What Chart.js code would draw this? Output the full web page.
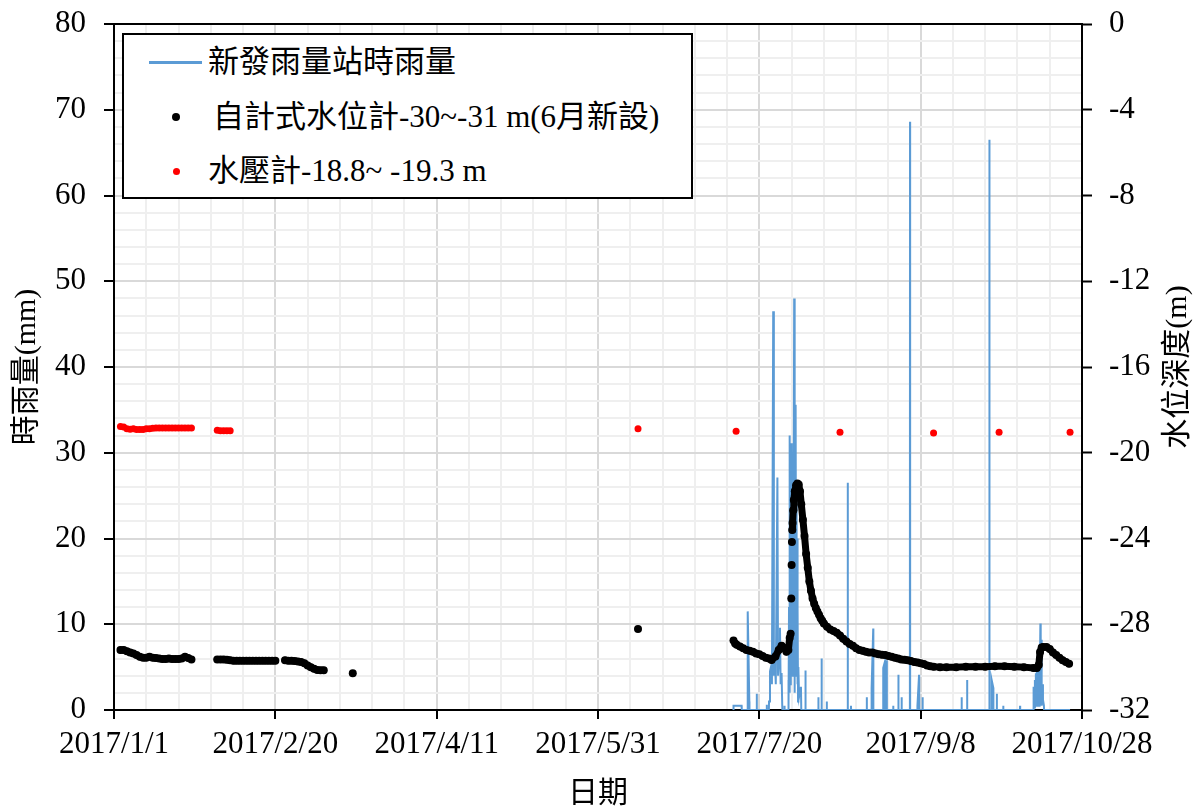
<!DOCTYPE html>
<html>
<head>
<meta charset="utf-8">
<script src="https://cdn.jsdelivr.net/npm/chart.js@4.4.1/dist/chart.umd.min.js"></script>
<style>
  body { margin: 0; background: #fff; }
  #wrap { position: relative; width: 1199px; height: 809px; }
  #legend {
    position: absolute; left: 122px; top: 33px; width: 567px; height: 162px;
    border: 2px solid #000; background: #fff; color: #000;
    font-family: 'Liberation Serif', 'Noto Sans CJK TC', serif; font-size: 31px;
  }
  .row { position: absolute; left: 0; height: 40px; line-height: 40px; white-space: nowrap; }
  .txt { position: absolute; top: 0; }
  .sw { position: absolute; }
</style>
</head>
<body>
<div id="wrap">
  <canvas id="chart" width="1199" height="809"></canvas>
  <div id="legend">
    <div class="row" style="top:7px">
      <span class="sw" style="left:25px;top:19px;width:53px;height:2.5px;background:#5b9bd5"></span>
      <span class="txt" style="left:84px">新發雨量站時雨量</span>
    </div>
    <div class="row" style="top:62px">
      <span class="sw" style="left:48px;top:16px;width:8px;height:8px;border-radius:50%;background:#000"></span>
      <span class="txt" style="left:89px">自計式水位計-30~-31 m(6月新設)</span>
    </div>
    <div class="row" style="top:116px">
      <span class="sw" style="left:48.5px;top:16.5px;width:7px;height:7px;border-radius:50%;background:#ff0000"></span>
      <span class="txt" style="left:84px">水壓計-18.8~ -19.3 m</span>
    </div>
  </div>
</div>
<script>
// x axis: days counted from 2017/1/1
var xTickDays = [0, 50, 100, 150, 200, 250, 300];
var xTickLabels = ['2017/1/1', '2017/2/20', '2017/4/11', '2017/5/31', '2017/7/20', '2017/9/8', '2017/10/28'];

// 新發雨量站時雨量 (mm), non-zero hours
var rainDay = [192.0, 192.5, 193.0, 193.5, 194.0, 194.5, 196.4, 196.9, 199.2, 202.3,
  203.0, 203.3, 203.6, 203.9, 204.3, 204.5, 204.8, 205.1, 205.6, 205.8, 206.1, 206.4, 206.6, 206.9, 207.1, 207.8,
  208.9, 209.0, 209.1, 209.2, 209.3, 209.4, 209.5, 209.6, 209.7, 209.8, 209.9, 210.0, 210.1, 210.2, 210.3, 210.4,
  210.5, 210.6, 210.7, 210.8, 210.9, 211.0, 211.1, 211.2, 211.3, 211.4, 211.5, 211.6, 211.7, 211.8, 211.9, 212.0,
  212.1, 212.3, 212.6, 212.9, 213.0,
  214.3, 218.3, 219.3, 220.9, 227.4, 228.4, 233.3, 234.8, 235.3, 238.4, 238.9, 239.5, 241.5, 243.1, 244.1,
  246.7, 249.0, 249.5, 250.6, 262.7, 264.4, 271.3, 272.0, 272.5, 273.6, 275.6, 280.8,
  284.9, 285.1, 285.2, 285.4, 285.5, 285.7, 285.8, 286.0, 286.1, 286.3, 286.4, 286.6, 286.7, 286.8, 286.9,
  287.1, 287.2, 287.3, 287.4, 287.5, 287.6, 287.7, 287.9, 288.2];
var rainMm = [0.5, 0.5, 0.5, 0.5, 0.5, 0.5, 11.5, 1.0, 1.9, 0.6,
  1.0, 4.5, 5.0, 3.0, 46.5, 4.0, 6.0, 3.0, 27.1, 4.0, 6.0, 9.6, 3.0, 4.3, 0.5, 0.5,
  0, 3.5, 0.5, 12, 2, 20, 32, 3, 28, 5, 31.1, 8, 29, 4, 27, 10,
  30, 6, 26, 48, 2, 29, 9, 28, 35.6, 4, 24.5, 7, 20, 3, 12, 1,
  5, 1.5, 1.5, 2.7, 0,
  4.6, 1.5, 6.0, 1.0, 26.5, 0.5, 1.5, 2.5, 9.5, 4.9, 5.6, 5.8, 0.5, 4.1, 1.5,
  68.6, 0.5, 4.1, 1.5, 1.5, 3.5, 66.5, 3.5, 2.6, 1.9, 0.5, 0.5,
  1.0, 2.7, 0.3, 3.5, 0.5, 4.3, 1, 5.5, 0.5, 6.5, 1, 7.1, 0.5, 6.0, 1,
  10.1, 0.5, 7.0, 1, 8.2, 0.5, 3.0, 1.2, 0.5];
var rainEnd = 296.3;

// 自計式水位計 (m), null = no record
var wlDay = [2, 3, 4, 5, 6, 7, 8, 9, 10, 11, 12, 13, 14, 15, 16, 17, 18, 19, 20, 21, 22, 23, 24, 28,
  32, 33, 34, 35, 36, 37, 38, 39, 40, 41, 42, 43, 44, 45, 46, 47, 48, 49, 50, 51.5,
  53, 54, 55, 56, 57, 58, 59, 60, 61, 62, 63, 64, 65, 70, 74, 120, 162.4, 180,
  192.0, 192.5, 193, 194, 195, 196, 197, 198, 199, 200, 201, 202, 203, 203.8, 205, 206, 206.9, 207.5, 208.4, 209.0,
  209.4, 209.7, 209.9, 210.0, 210.1, 210.2, 210.3, 210.5, 210.7, 211.0, 211.4, 211.8, 212.2, 212.6, 213.0, 213.5,
  214.0, 214.5, 215.0, 215.5, 216.0, 216.5, 217.0, 217.5, 218.0, 218.5, 219.0, 219.5, 220.0, 221, 222, 223, 224,
  225, 226, 227, 228, 229, 230, 231, 232, 233, 234, 235, 236, 237, 238, 239, 240, 241, 242, 243, 244, 245, 246,
  247, 248, 249, 250, 251, 252, 253, 254, 256, 258, 261, 264, 267, 270, 273, 276, 279, 282, 285, 286.0, 286.6,
  287.0, 287.5, 288, 289, 290, 291, 292, 293, 294, 295, 296];
var wlDepth = [-29.2, -29.2, -29.26, -29.32, -29.36, -29.44, -29.52, -29.56, -29.56, -29.52, -29.56, -29.58, -29.6,
  -29.62, -29.62, -29.6, -29.62, -29.62, -29.62, -29.6, -29.52, -29.58, -29.64, null,
  -29.64, -29.64, -29.64, -29.66, -29.68, -29.7, -29.7, -29.7, -29.7, -29.7, -29.7, -29.7, -29.7, -29.7, -29.7,
  -29.7, -29.7, -29.7, -29.7, null,
  -29.68, -29.7, -29.7, -29.72, -29.74, -29.76, -29.82, -29.92, -30.0, -30.08, -30.13, -30.14, -30.14, null,
  -30.28, null, -28.22, null,
  -28.76, -28.9, -28.96, -29.04, -29.12, -29.2, -29.24, -29.28, -29.36, -29.4, -29.48, -29.56, -29.6, -29.67,
  -29.5, -29.2, -29.0, -29.1, -29.28, -29.2,
  -28.64, -28.44, -26.8, -25.24, -24.16, -23.6, -23.28, -22.68, -22.2, -21.8, -21.52, -21.44, -21.48, -21.8,
  -22.4, -23.12, -23.88, -24.72, -25.36, -26.0, -26.44, -26.8, -27.04, -27.24, -27.4, -27.56, -27.72, -27.84,
  -27.96, -28.12, -28.24, -28.32, -28.4, -28.52, -28.68, -28.8, -28.92, -29.0, -29.12, -29.2, -29.24, -29.28,
  -29.32, -29.32, -29.36, -29.4, -29.42, -29.44, -29.48, -29.52, -29.56, -29.6, -29.64, -29.66, -29.68, -29.72,
  -29.76, -29.78, -29.82, -29.86, -29.92, -29.96, -29.98, -30.0, -30.0, -30.0, -29.98, -29.98, -29.98, -29.96,
  -29.96, -29.98, -30.0, -30.04, -30.04, -29.9, -29.3, -29.08, -29.06, -29.06, -29.16, -29.32, -29.44, -29.56,
  -29.68, -29.76, -29.84];

// 水壓計 (m)
var wpDay = [2, 3, 4, 5, 6, 7, 8, 9, 10, 11, 12, 13, 14, 15, 16, 17, 18, 19, 20, 21, 22, 23, 24,
  32, 33, 34, 35, 36, 162.4, 192.8, 225, 254, 274.3, 296.3];
var wpDepth = [-18.78, -18.8, -18.88, -18.9, -18.88, -18.92, -18.92, -18.92, -18.88, -18.88, -18.86, -18.84,
  -18.84, -18.84, -18.84, -18.84, -18.84, -18.84, -18.84, -18.84, -18.84, -18.84, -18.84,
  -18.95, -18.97, -18.97, -18.97, -18.97, -18.88, -19.0, -19.04, -19.08, -19.04, -19.04];

var FONT = "'Liberation Serif', 'Noto Sans CJK TC', serif";

// hourly rain: zero hours before/after each rainy spell
function buildRain() {
  var pts = [];
  for (var i = 0; i < rainDay.length; i++) {
    if (i === 0) pts.push({x: rainDay[0] - 0.04, y: 0});
    pts.push({x: rainDay[i], y: rainMm[i]});
    var next = rainDay[i + 1];
    if (next === undefined) {
      pts.push({x: rainDay[i] + 0.04, y: 0});
    } else if (next - rainDay[i] > 0.5) {
      pts.push({x: rainDay[i] + 0.04, y: 0});
      pts.push({x: next - 0.04, y: 0});
    }
  }
  pts.push({x: rainEnd, y: 0});
  return pts;
}

function toPoints(xs, ys) {
  return xs.map(function(x, i) { return {x: x, y: ys[i]}; });
}

// fixed box for a vertical axis, no extra room above/below for labels
function fixWidth(w) {
  return function(s) {
    s.width = w;
    s.paddingTop = 0;
    s.paddingBottom = 0;
  };
}

// right axis title reads bottom-to-top like the left one
var rightTitle = {
  id: 'rightTitle',
  afterDraw: function(chart) {
    var c = chart.ctx;
    var area = chart.chartArea;
    c.save();
    c.translate(chart.scales.y2.right - 21, (area.top + area.bottom) / 2);
    c.rotate(-Math.PI / 2);
    c.font = '30px ' + FONT;
    c.fillStyle = '#000';
    c.textAlign = 'center';
    c.textBaseline = 'middle';
    c.fillText('水位深度(m)', 0, 0);
    c.restore();
  }
};

var clear = 'rgba(0,0,0,0)';

new Chart(document.getElementById('chart').getContext('2d'), {
  type: 'scatter',
  data: {
    datasets: [{
      label: '水壓計-18.8~ -19.3 m',
      data: toPoints(wpDay, wpDepth),
      yAxisID: 'y2',
      pointRadius: 3.5,
      pointBorderWidth: 0,
      backgroundColor: '#ff0000',
      order: 0
    }, {
      label: '自計式水位計-30~-31 m(6月新設)',
      data: toPoints(wlDay, wlDepth),
      yAxisID: 'y2',
      showLine: true,
      spanGaps: false,
      borderColor: '#000',
      borderWidth: 7,
      borderJoinStyle: 'round',
      borderCapStyle: 'round',
      pointRadius: 4,
      pointBorderWidth: 0,
      backgroundColor: '#000',
      segment: {
        // the fast rise is separate readings, not a continuous trace
        borderColor: function(c) {
          var dx = c.p1.parsed.x - c.p0.parsed.x;
          var dy = c.p1.parsed.y - c.p0.parsed.y;
          return dy / dx > 4 ? clear : '#000';
        }
      },
      order: 1
    }, {
      type: 'line',
      label: '新發雨量站時雨量',
      data: buildRain(),
      yAxisID: 'y',
      borderColor: '#5b9bd5',
      backgroundColor: '#5b9bd5',
      borderWidth: 2,
      pointRadius: 0,
      tension: 0,
      fill: false,
      order: 2
    }]
  },
  options: {
    responsive: false,
    animation: false,
    devicePixelRatio: 1,
    layout: { padding: { top: 24, left: 0, right: 0, bottom: 0 } },
    plugins: {
      legend: { display: false },
      tooltip: { enabled: false }
    },
    scales: {
      x: {
        type: 'linear',
        position: 'bottom',
        min: 0,
        max: 300,
        afterFit: function(s) { s.height = 99; },
        ticks: {
          stepSize: 10,
          autoSkip: false,
          maxRotation: 0,
          padding: 7,
          color: '#000',
          font: { family: FONT, size: 31 },
          callback: function(v) {
            var i = xTickDays.indexOf(v);
            return i >= 0 ? xTickLabels[i] : '';
          }
        },
        grid: {
          color: function(c) { return c.tick.value % 50 === 0 ? '#d9d9d9' : '#efefef'; },
          lineWidth: 2,
          tickLength: 9,
          tickWidth: 2,
          tickColor: function(c) { return c.tick.value % 50 === 0 ? '#000' : clear; }
        },
        border: { color: '#000', width: 2 },
        title: {
          display: true,
          text: '日期',
          color: '#000',
          font: { family: FONT, size: 30, lineHeight: 1 },
          padding: { top: 0, bottom: 0 }
        }
      },
      y: {
        position: 'left',
        min: 0,
        max: 80,
        afterFit: fixWidth(114),
        ticks: {
          stepSize: 2,
          autoSkip: false,
          padding: 18,
          color: '#000',
          font: { family: FONT, size: 31 },
          callback: function(v) { return v % 10 === 0 ? v : ''; }
        },
        grid: {
          color: function(c) {
            var v = c.tick.value;
            return v === 80 ? '#000' : (v % 10 === 0 ? '#d9d9d9' : '#efefef');
          },
          lineWidth: 2,
          tickLength: 10,
          tickWidth: 2,
          tickColor: function(c) { return c.tick.value % 10 === 0 ? '#000' : clear; }
        },
        border: { color: '#000', width: 2 },
        title: {
          display: true,
          text: '時雨量(mm)',
          color: '#000',
          font: { family: FONT, size: 30, lineHeight: 1 },
          padding: { top: 12, bottom: 0 }
        }
      },
      y2: {
        position: 'right',
        min: -32,
        max: 0,
        afterFit: fixWidth(117),
        ticks: {
          stepSize: 4,
          autoSkip: false,
          padding: 17,
          color: '#000',
          font: { family: FONT, size: 31 }
        },
        grid: {
          drawOnChartArea: false,
          tickLength: 10,
          tickWidth: 2,
          tickColor: '#000'
        },
        border: { color: '#000', width: 2 }
      }
    }
  },
  plugins: [rightTitle]
});
</script>
</body>
</html>
